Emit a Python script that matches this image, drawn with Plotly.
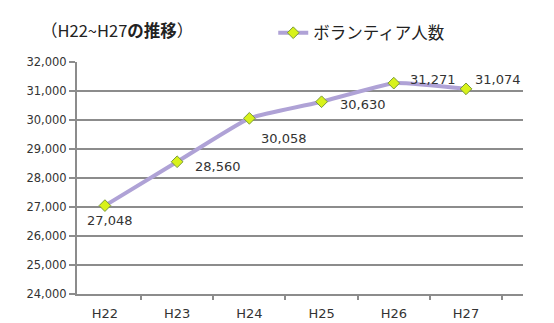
import plotly.graph_objects as go

categories = ["H22", "H23", "H24", "H25", "H26", "H27"]
values = [27048, 28560, 30058, 30630, 31271, 31074]
label_text = ["27,048", "28,560", "30,058", "30,630", "31,271", "31,074"]
y_ticks = list(range(24000, 32001, 1000))
y_tick_labels = [f"{v:,}" for v in y_ticks]
series_name = "ボランティア人数"
title_plain = "（H22~H27"
title_bold = "の推移"
title_end = "）"

# label placement: (xanchor, xshift, yshift)
label_place = [("center", 5, -15), ("left", 16, -5), ("left", 10, -20),
               ("left", 16, -3), ("left", 14, 4), ("left", 7, 9)]

fig = go.Figure()
fig.add_trace(go.Scatter(
    x=categories, y=values, name=series_name,
    mode="lines+markers",
    line=dict(color="#AFA2D6", width=4, shape="spline", smoothing=0.4),
    marker=dict(symbol="diamond", size=9, color="#D8F21A",
                line=dict(color="#7A9A3A", width=1)),
    cliponaxis=False,
))

annotations = []
for c, v, t, (xa, xs, ys) in zip(categories, values, label_text, label_place):
    annotations.append(dict(x=c, y=v, text=t, showarrow=False, xanchor=xa, yanchor="middle",
                            xshift=xs, yshift=ys,
                            font=dict(family="DejaVu Sans", size=13, color="#333333")))
annotations.append(dict(text=title_plain + "<b>" + title_bold + "</b>" + title_end,
                        xref="paper", yref="paper",
                        x=-0.085, y=1.14, xanchor="left", yanchor="middle",
                        showarrow=False,
                        font=dict(family="Noto Sans CJK JP", size=16.5, color="#222222")))

fig.update_layout(
    width=554, height=323,
    margin=dict(l=77, r=31, t=62, b=29),
    paper_bgcolor="white", plot_bgcolor="white",
    showlegend=True,
    legend=dict(orientation="h", x=0.44, y=1.125, xanchor="left", yanchor="middle",
                font=dict(family="Noto Sans CJK JP", size=16.5, color="#222222"),
                bgcolor="rgba(0,0,0,0)"),
    xaxis=dict(type="category", tickson="boundaries", ticks="outside", ticklen=4,
               tickcolor="#8C8C8C", tickwidth=2, automargin=False,
               showline=True, linecolor="#8C8C8C", linewidth=2,
               showgrid=False, ticklabelstandoff=6,
               tickfont=dict(family="DejaVu Sans", size=13, color="#333333")),
    yaxis=dict(range=[24000, 32000], tickvals=y_ticks, ticktext=y_tick_labels,
               ticks="outside", ticklen=6, tickcolor="#8C8C8C", tickwidth=2,
               showline=True, linecolor="#8C8C8C", linewidth=2, automargin=False,
               showgrid=True, gridcolor="#8C8C8C", gridwidth=2,
               zeroline=False,
               tickfont=dict(family="DejaVu Sans", size=11.5, color="#333333")),
    annotations=annotations,
)

fig.write_html("out.html")
